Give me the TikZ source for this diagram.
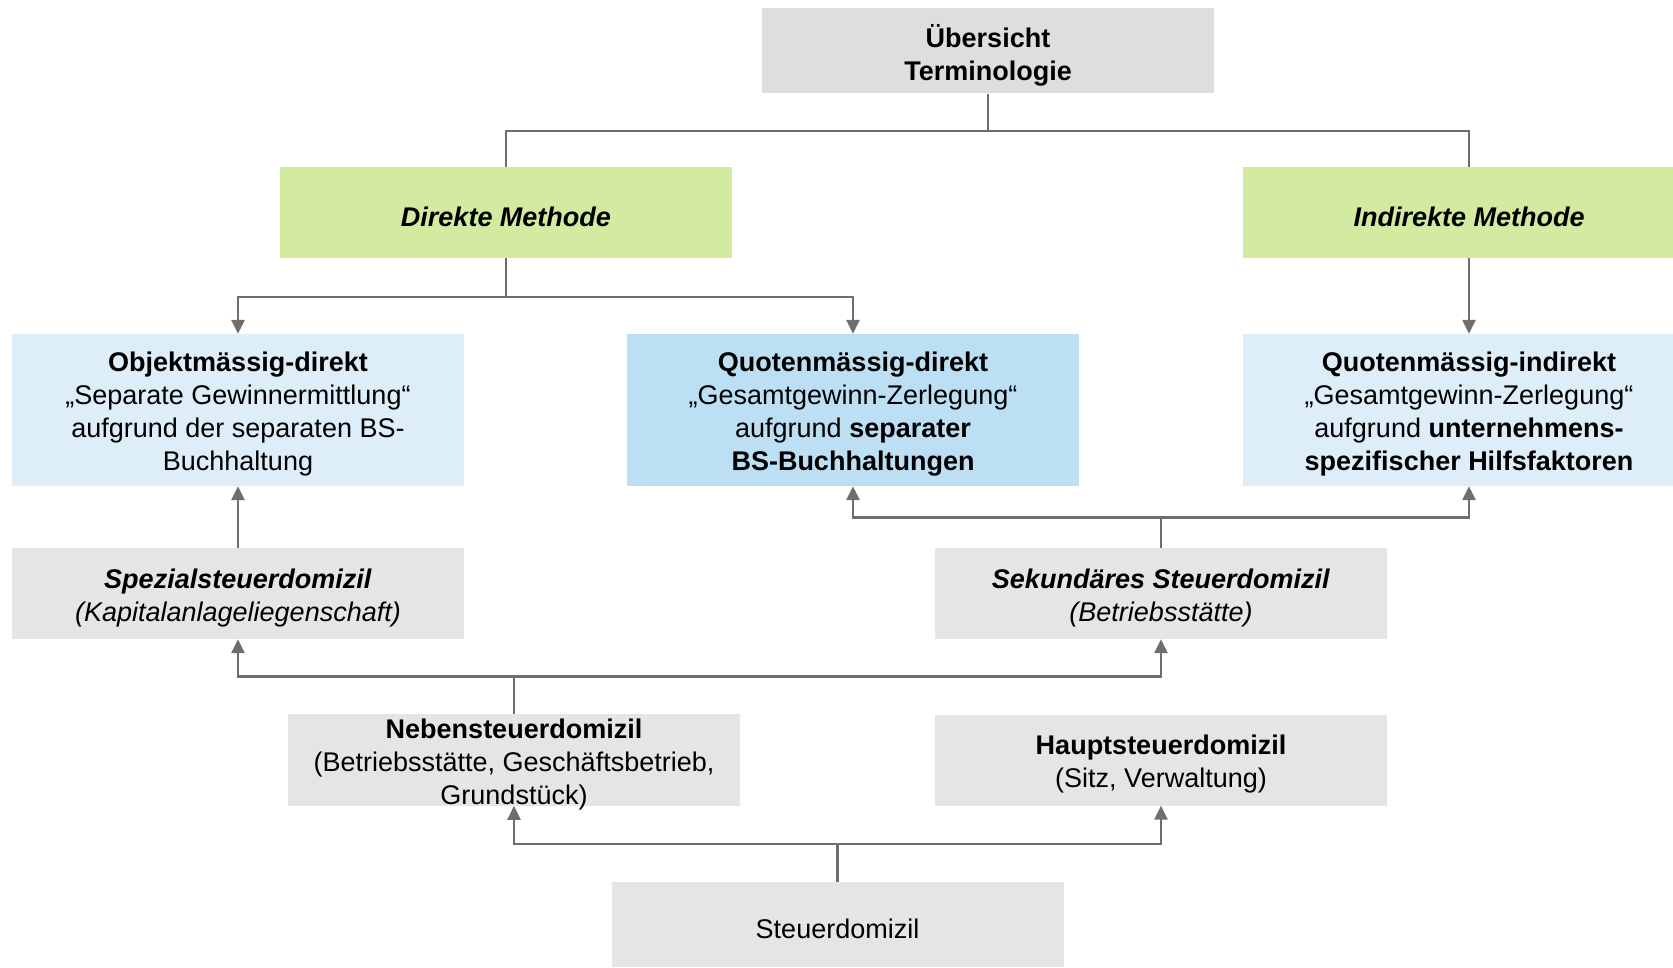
\documentclass[tikz,border=0pt]{standalone}
\usepackage{fontspec}
\setmainfont{Liberation Sans}
\usetikzlibrary{arrows.meta}
\definecolor{boxgray}{HTML}{E5E5E5}
\definecolor{topgray}{HTML}{DEDEDE}
\definecolor{mygreen}{HTML}{D3EBA0}
\definecolor{lblue}{HTML}{DDEEF9}
\definecolor{mblue}{HTML}{BDDFF4}
\definecolor{linegray}{HTML}{6E6E6E}
\newcommand\bxtext[1]{\raisebox{-4.5pt}[\height][\depth]{\parbox{444pt}{\centering\fontsize{27}{33}\selectfont #1}}}
\begin{document}
\begin{tikzpicture}[x=1pt,y=-1pt,
  box/.style={minimum width=452pt, minimum height=91pt, inner sep=0pt},
  conn/.style={draw=linegray, line width=2.5pt},
  arr/.style={conn, -{Triangle[length=14pt,width=13pt]}}]
\useasboundingbox (0,0) rectangle (1673,968);
\clip (0,0) rectangle (1673,968);
\fill[white] (0,0) rectangle (1673,968);
% nodes
\node[box, fill=topgray, minimum height=85pt] (ueb) at (988,51) {\bxtext{\textbf{Übersicht}\\\textbf{Terminologie}}};
\node[box, fill=mygreen] (dir) at (506,212.5) {\bxtext{\textbf{\textit{Direkte Methode}}}};
\node[box, fill=mygreen] (ind) at (1469,212.5) {\bxtext{\textbf{\textit{Indirekte Methode}}}};
\node[box, fill=lblue, minimum height=152pt] (obj) at (238,410) {\bxtext{\textbf{Objektmässig-direkt}\\„Separate Gewinnermittlung“\\aufgrund der separaten BS-\\Buchhaltung}};
\node[box, fill=mblue, minimum height=152pt] (qd) at (853,410) {\bxtext{\textbf{Quotenmässig-direkt}\\„Gesamtgewinn-Zerlegung“\\aufgrund \textbf{separater}\\\textbf{BS-Buchhaltungen}}};
\node[box, fill=lblue, minimum height=152pt] (qi) at (1469,410) {\bxtext{\textbf{Quotenmässig-indirekt}\\„Gesamtgewinn-Zerlegung“\\aufgrund \textbf{unternehmens-}\\\textbf{spezifischer Hilfsfaktoren}}};
\node[box, fill=boxgray] (spez) at (238,593.5) {\bxtext{\textbf{\textit{Spezialsteuerdomizil}}\\\textit{(Kapitalanlageliegenschaft)}}};
\node[box, fill=boxgray] (sek) at (1161,593.5) {\bxtext{\textbf{\textit{Sekundäres Steuerdomizil}}\\\textit{(Betriebsstätte)}}};
\node[box, fill=boxgray] (neb) at (514,760) {\bxtext{\textbf{Nebensteuerdomizil}\\(Betriebsstätte, Geschäftsbetrieb,\\Grundstück)}};
\node[box, fill=boxgray] (haupt) at (1161,760) {\bxtext{\textbf{Hauptsteuerdomizil}\\(Sitz, Verwaltung)}};
\node[box, fill=boxgray, minimum height=85pt] (steu) at (837.5,924.5) {\bxtext{Steuerdomizil}};
% junctions
\coordinate (j1) at (988,131);
\coordinate (j2) at (506,297);
\coordinate (j3) at (1161,517.5);
\coordinate (j4) at (514,676.5);
\coordinate (j5) at (837.5,844);
% connectors
\draw[conn] (ueb.south) -- (j1) -| (dir.north);
\draw[conn] (j1) -| (ind.north);
\draw[conn] (dir.south) -- (j2);
\draw[arr] (j2) -| (obj.north);
\draw[arr] (j2) -| (qd.north);
\draw[arr] (ind.south) -- (qi.north);
\draw[arr] (spez.north) -- (obj.south);
\draw[conn] (sek.north) -- (j3);
\draw[arr] (j3) -| (qd.south);
\draw[arr] (j3) -| (qi.south);
\draw[conn] (neb.north) -- (j4);
\draw[arr] (j4) -| (spez.south);
\draw[arr] (j4) -| (sek.south);
\draw[conn] (steu.north) -- (j5);
\draw[arr] (j5) -| (neb.south);
\draw[arr] (j5) -| (haupt.south);
\end{tikzpicture}
\end{document}
